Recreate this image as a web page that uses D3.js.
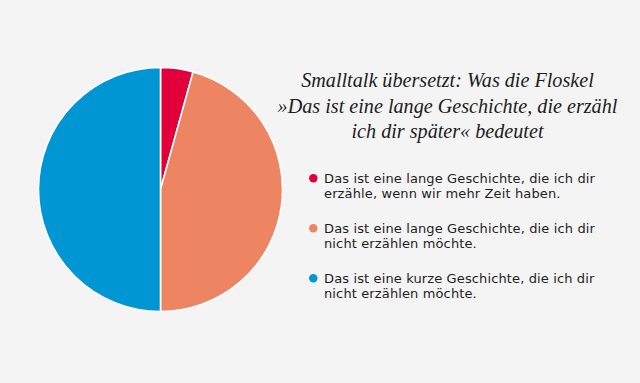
<!DOCTYPE html>
<html><head><meta charset="utf-8">
<script src="https://cdn.jsdelivr.net/npm/d3@7"></script>
<style>html,body{margin:0;padding:0;background:#f4f4f4;}svg{display:block;}</style>
</head><body>
<svg id="c" width="640" height="383"></svg>
<script>
const categories = [
  ["Das ist eine lange Geschichte, die ich dir", "erzähle, wenn wir mehr Zeit haben."],
  ["Das ist eine lange Geschichte, die ich dir", "nicht erzählen möchte."],
  ["Das ist eine kurze Geschichte, die ich dir", "nicht erzählen möchte."]
];
const values = [4.3, 45.7, 50];
const colors = ["#e1003c", "#ed8462", "#0096d4"];
const titleLines = ["Smalltalk übersetzt: Was die Floskel", "»Das ist eine lange Geschichte, die erzähl", "ich dir später« bedeutet"];

const svg = d3.select("#c");
svg.append("rect").attr("width",640).attr("height",383).attr("fill","#f4f4f4");

const cx = 160.5, cy = 189.5, r = 122;
const pie = d3.pie().sort(null).value(d=>d)(values);
const arc = d3.arc().innerRadius(0).outerRadius(r);
svg.append("g").attr("transform",`translate(${cx},${cy})`)
  .selectAll("path").data(pie).join("path")
  .attr("d",arc).attr("fill",(d,i)=>colors[i])
  .attr("stroke","#ffffff").attr("stroke-width",1.6).attr("stroke-linejoin","round");

// Title
const tg = svg.append("g");
titleLines.forEach((t,i)=>{
  tg.append("text").attr("x",447.5).attr("y",87+25.5*i)
    .attr("text-anchor","middle")
    .attr("font-family","'Liberation Serif', 'DejaVu Serif', serif")
    .attr("font-style","italic").attr("font-size",20).attr("fill","#1c1c1c").text(t);
});
const l2 = tg.selectAll("text").nodes()[1].getComputedTextLength();
tg.selectAll("text").attr("font-size",20*340/l2);

// Legend
const lg = svg.append("g");
categories.forEach((lines,i)=>{
  const y0 = 183.3 + 50*i;
  lg.append("circle").attr("cx",313.3).attr("cy",y0-5).attr("r",4.2).attr("fill",colors[i]);
  lines.forEach((t,j)=>{
    lg.append("text").attr("class","lt").attr("x",324).attr("y",y0+14.2*j)
      .attr("font-family","'DejaVu Sans', sans-serif").attr("font-size",13)
      .attr("fill","#1e1e1e").text(t);
  });
});
const first = lg.select("text.lt");
const lw = first.node().getComputedTextLength();
const ls = (271 - lw) / first.text().length;
lg.selectAll("text.lt").attr("letter-spacing", ls);
</script>
</body></html>
